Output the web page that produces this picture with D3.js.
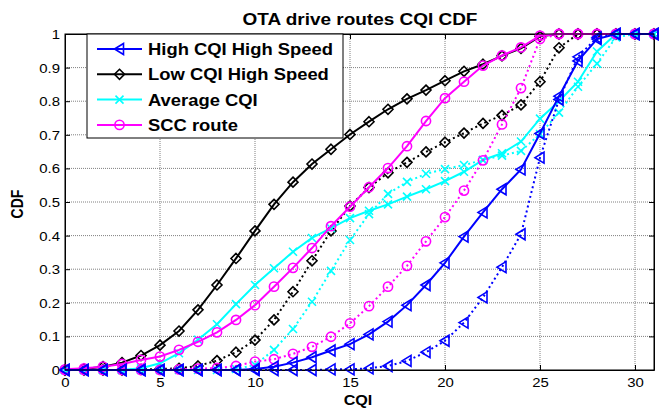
<!DOCTYPE html>
<html>
<head>
<meta charset="utf-8">
<script src="https://cdn.jsdelivr.net/npm/d3@7"></script>
<style>
body { margin: 0; background: #fff; }
text { font-family: "Liberation Sans", Arial, sans-serif; fill: #000; }
</style>
</head>
<body>
<svg width="659" height="410"></svg>
<script>
// CQI values on the x axis
var cqi = [0,1,2,3,4,5,6,7,8,9,10,11,12,13,14,15,16,17,18,19,20,21,22,23,24,25,26,27,28,29,30,31];

// CDF values (solid = legend line, dotted = companion line)
var highSolid  = [0,0,0,0,0,0,0,0,0,0,0.003,0.01,0.022,0.038,0.058,0.077,0.106,0.144,0.193,0.253,0.319,0.397,0.469,0.538,0.597,0.704,0.815,0.92,0.985,1,1,1];
var highDotted = [0,0,0,0,0,0,0,0,0,0,0,0,0,0,0.002,0.002,0.005,0.012,0.027,0.053,0.087,0.141,0.216,0.306,0.404,0.632,0.805,0.932,0.99,1,1,1];
var lowSolid   = [0,0.003,0.01,0.022,0.043,0.074,0.116,0.179,0.253,0.332,0.414,0.493,0.559,0.613,0.657,0.701,0.739,0.776,0.807,0.833,0.861,0.889,0.91,0.935,0.957,0.993,1,1,1,1,1,1];
var lowDotted  = [0,0,0,0,0.002,0.003,0.005,0.012,0.028,0.053,0.089,0.149,0.233,0.325,0.414,0.488,0.543,0.587,0.618,0.649,0.678,0.705,0.734,0.758,0.789,0.858,0.959,1,1,1,1,1];
var avgSolid   = [0,0,0,0,0.005,0.02,0.05,0.09,0.136,0.196,0.253,0.303,0.352,0.393,0.422,0.452,0.474,0.493,0.516,0.538,0.562,0.59,0.625,0.645,0.68,0.748,0.8,0.858,0.948,1,1,1];
var avgDotted  = [0,0,0,0,0,0,0,0,0,0.003,0.015,0.06,0.122,0.203,0.295,0.387,0.464,0.524,0.56,0.584,0.598,0.61,0.625,0.638,0.652,0.702,0.766,0.843,0.912,0.99,1,1];
var sccSolid   = [0.002,0.005,0.01,0.018,0.03,0.04,0.06,0.084,0.112,0.149,0.193,0.248,0.304,0.363,0.428,0.486,0.544,0.601,0.666,0.741,0.809,0.858,0.906,0.936,0.96,0.995,1,1,1,1,1,1];
var sccDotted  = [0,0,0,0,0,0,0.002,0.004,0.006,0.012,0.025,0.032,0.048,0.069,0.099,0.139,0.19,0.248,0.31,0.383,0.455,0.534,0.624,0.731,0.839,0.985,1,1,1,1,1,1];

var legendNames = ['High CQI High Speed', 'Low CQI High Speed', 'Average CQI', 'SCC route'];
var xTicks = [0,5,10,15,20,25,30];
var yTicks = [0,0.1,0.2,0.3,0.4,0.5,0.6,0.7,0.8,0.9,1];
var yTickLabels = ['0','0.1','0.2','0.3','0.4','0.5','0.6','0.7','0.8','0.9','1'];

var svg = d3.select('svg');
var x = d3.scaleLinear().domain([0, 31]).range([65, 654]);
var y = d3.scaleLinear().domain([0, 1]).range([370, 34]);
var stretch = 'scale(1.15,1)';   // the figure is a bit wider than tall

// marker shapes
var markers = {
  tri: 'M-5,0L4,-5.5L4,5.5Z',
  dia: 'M0,-5L5,0L0,5L-5,0Z',
  cross: 'M-4,-4L4,4M-4,4L4,-4',
  circ: 'M4.6,0A4.6,4.6 0 1,1 -4.6,0A4.6,4.6 0 1,1 4.6,0Z'
};

var series = [
  {vals: lowDotted,  color: '#000000', dash: '2,3', mk: 'dia'},
  {vals: lowSolid,   color: '#000000', dash: null,  mk: 'dia'},
  {vals: avgDotted,  color: '#00ffff', dash: '2,3', mk: 'cross'},
  {vals: avgSolid,   color: '#00ffff', dash: null,  mk: 'cross'},
  {vals: sccDotted,  color: '#ff00ff', dash: '2,3', mk: 'circ'},
  {vals: sccSolid,   color: '#ff00ff', dash: null,  mk: 'circ'},
  {vals: highDotted, color: '#0000ff', dash: '2,3', mk: 'tri'},
  {vals: highSolid,  color: '#0000ff', dash: null,  mk: 'tri'}
];
var legendItems = [
  {color: '#0000ff', mk: 'tri'},
  {color: '#000000', mk: 'dia'},
  {color: '#00ffff', mk: 'cross'},
  {color: '#ff00ff', mk: 'circ'}
];

// grid
svg.append('g').selectAll('line').data(xTicks.slice(1)).enter().append('line')
  .attr('x1', function(d) { return x(d); }).attr('x2', function(d) { return x(d); })
  .attr('y1', y(0)).attr('y2', y(1))
  .attr('stroke', '#808080').attr('stroke-dasharray', '1,1');
svg.append('g').selectAll('line').data(yTicks.slice(1, -1)).enter().append('line')
  .attr('y1', function(d) { return y(d); }).attr('y2', function(d) { return y(d); })
  .attr('x1', x(0)).attr('x2', x(31))
  .attr('stroke', '#808080').attr('stroke-dasharray', '1,1');

// axes
var xAxis = svg.append('g').attr('transform', 'translate(0,' + y(0) + ')')
  .call(d3.axisBottom(x).tickValues(xTicks).tickSizeInner(-5).tickSizeOuter(0));
var yAxis = svg.append('g').attr('transform', 'translate(' + x(0) + ',0)')
  .call(d3.axisLeft(y).tickValues(yTicks).tickFormat(function(d, i) { return yTickLabels[i]; })
    .tickSizeInner(-5).tickSizeOuter(0));
svg.append('g').attr('transform', 'translate(0,' + y(1) + ')')
  .call(d3.axisTop(x).tickValues(xTicks).tickSizeInner(-5).tickSizeOuter(0).tickFormat(''));
svg.append('g').attr('transform', 'translate(' + x(31) + ',0)')
  .call(d3.axisRight(y).tickValues(yTicks).tickSizeInner(-5).tickSizeOuter(0).tickFormat(''));
svg.selectAll('.domain').attr('stroke', '#000');
svg.selectAll('.tick line').attr('stroke', '#000');

xAxis.selectAll('text').attr('y', 17).attr('dy', null)
  .attr('font-size', 13).attr('font-family', '"Liberation Sans", Arial, sans-serif')
  .attr('transform', stretch);
yAxis.selectAll('text').attr('x', 0).attr('dy', '0.35em')
  .attr('font-size', 13).attr('font-family', '"Liberation Sans", Arial, sans-serif')
  .attr('transform', 'translate(-5,0) ' + stretch);

// lines and markers
var line = d3.line().x(function(d, i) { return x(cqi[i]); }).y(function(d) { return y(d); });
series.forEach(function(s) {
  svg.append('path').datum(s.vals)
    .attr('d', line).attr('fill', 'none')
    .attr('stroke', s.color).attr('stroke-width', 2)
    .attr('stroke-dasharray', s.dash);
  svg.append('g').selectAll('path').data(s.vals).enter().append('path')
    .attr('d', markers[s.mk])
    .attr('transform', function(d, i) { return 'translate(' + x(cqi[i]) + ',' + y(d) + ')'; })
    .attr('fill', 'none').attr('stroke', s.color).attr('stroke-width', 1.6);
});

// box outline on top
svg.append('rect').attr('x', x(0)).attr('y', y(1))
  .attr('width', x(31) - x(0)).attr('height', y(0) - y(1))
  .attr('fill', 'none').attr('stroke', '#000');

// legend
var leg = svg.append('g');
leg.append('rect').attr('x', 87).attr('y', 34).attr('width', 256).attr('height', 104)
  .attr('fill', '#fff').attr('stroke', '#000');
var rows = leg.selectAll('g.row').data(legendItems).enter().append('g')
  .attr('transform', function(d, i) { return 'translate(0,' + (49 + i * 25.3) + ')'; });
rows.append('line').attr('x1', 97).attr('x2', 142).attr('y1', 0).attr('y2', 0)
  .attr('stroke', function(d) { return d.color; }).attr('stroke-width', 2);
rows.append('path').attr('d', function(d) { return markers[d.mk]; })
  .attr('transform', 'translate(119.5,0)')
  .attr('fill', 'none').attr('stroke', function(d) { return d.color; }).attr('stroke-width', 1.6);
rows.append('text').attr('transform', 'translate(148,6) ' + stretch)
  .attr('font-size', 16).attr('font-weight', 'bold')
  .text(function(d, i) { return legendNames[i]; });

// titles
svg.append('text').attr('transform', 'translate(360,25) ' + stretch)
  .attr('text-anchor', 'middle').attr('font-size', 16.5).attr('font-weight', 'bold')
  .text('OTA drive routes CQI CDF');
svg.append('text').attr('transform', 'translate(358,405) ' + stretch)
  .attr('text-anchor', 'middle').attr('font-size', 14).attr('font-weight', 'bold')
  .text('CQI');
svg.append('text').attr('transform', 'translate(23,204) rotate(-90) scale(1,1.15)')
  .attr('text-anchor', 'middle').attr('font-size', 14).attr('font-weight', 'bold')
  .text('CDF');
</script>
</body>
</html>
